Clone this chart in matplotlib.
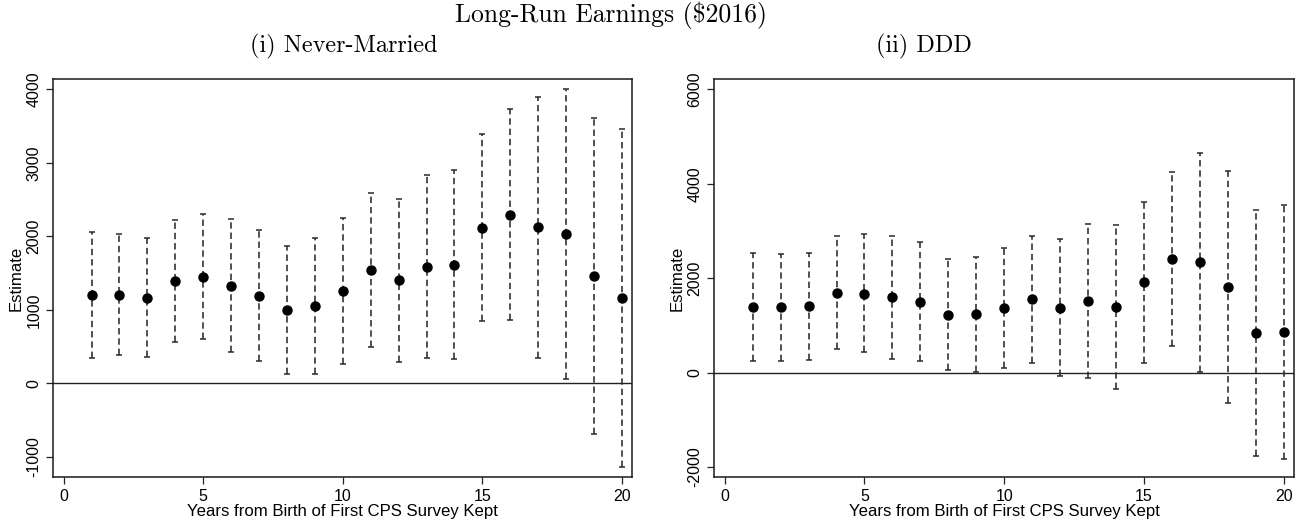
import matplotlib
matplotlib.use("Agg")
import matplotlib.pyplot as plt
import numpy as np

years = list(range(1, 21))

# Panel (i) Never-Married
nm_est = [1202, 1206, 1166, 1392, 1447, 1329, 1193, 998, 1057, 1256,
          1542, 1406, 1587, 1610, 2118, 2295, 2127, 2027, 1460, 1166]
nm_hi = [2063, 2032, 1973, 2218, 2299, 2236, 2082, 1873, 1982, 2249,
         2590, 2512, 2839, 2898, 3388, 3732, 3900, 4000, 3610, 3465]
nm_lo = [349, 381, 363, 567, 599, 422, 299, 122, 132, 259,
         494, 290, 340, 327, 848, 862, 349, 54, -694, -1134]

# Panel (ii) DDD
ddd_est = [1385, 1385, 1406, 1689, 1675, 1604, 1498, 1230, 1237, 1371,
           1555, 1378, 1512, 1385, 1915, 2403, 2339, 1816, 841, 862]
ddd_hi = [2537, 2516, 2530, 2890, 2926, 2898, 2763, 2403, 2459, 2643,
          2898, 2834, 3145, 3117, 3611, 4247, 4650, 4276, 3442, 3555]
ddd_lo = [240, 254, 276, 495, 431, 297, 240, 49, 14, 92,
          212, -78, -120, -353, 212, 565, 14, -650, -1774, -1837]

main_title = "Long-Run Earnings ($2016)"
panel_titles = ["(i) Never-Married", "(ii) DDD"]
xlabel = "Years from Birth of First CPS Survey Kept"
ylabel = "Estimate"
xticks = [0, 5, 10, 15, 20]
yticks_nm = [-1000, 0, 1000, 2000, 3000, 4000]
yticks_ddd = [-2000, 0, 2000, 4000, 6000]

plt.rcParams['font.family'] = ['Liberation Sans', 'DejaVu Sans']
plt.rcParams['lines.scale_dashes'] = False

fig = plt.figure(figsize=(13.06, 5.25), dpi=100)
ax1 = fig.add_axes([0.0408, 0.0914, 0.4431, 0.758])
ax2 = fig.add_axes([0.547, 0.0914, 0.4436, 0.758])

serif = ['cmr10', 'DejaVu Serif']

def draw(ax, est, hi, lo, ylim, yticks):
    est = np.array(est); hi = np.array(hi); lo = np.array(lo)
    ax.axhline(0, color='#222222', lw=1.0, zorder=1)
    ax.vlines(years, lo, hi, colors='#2a2a2a', lw=1.15,
              linestyles=[(0, (4.6, 2.8))], zorder=2)
    ax.plot(years, hi, ls='none', marker='_', ms=5, mew=1.1, color='#2a2a2a', zorder=2)
    ax.plot(years, lo, ls='none', marker='_', ms=5, mew=1.1, color='#2a2a2a', zorder=2)
    ax.plot(years, est, ls='none', marker='o', ms=6.5, color='black', zorder=3)
    ax.set_xlim(-0.37, 20.36)
    ax.set_ylim(*ylim)
    ax.set_xticks(xticks)
    ax.set_yticks(yticks)
    ax.set_yticklabels([str(t) for t in yticks], rotation=90, va='center')
    ax.tick_params(direction='out', length=5, width=0.9, labelsize=11.5, color='#222222')
    for s in ax.spines.values():
        s.set_linewidth(1.1)
        s.set_color('#1a1a1a')
    ax.set_xlabel(xlabel, fontsize=12.1, labelpad=0)
    ax.set_ylabel(ylabel, fontsize=12.1, labelpad=2)

draw(ax1, nm_est, nm_hi, nm_lo, (-1275, 4140), yticks_nm)
draw(ax2, ddd_est, ddd_hi, ddd_lo, (-2212, 6219), yticks_ddd)

fig.text(611 / 1306, 1 - 15 / 525, main_title, ha='center', va='center', fontsize=18.5, family=serif)
fig.text(343.5 / 1306, 1 - 46 / 525, panel_titles[0], ha='center', va='center', fontsize=17.5, family=serif)
fig.text(924 / 1306, 1 - 46 / 525, panel_titles[1], ha='center', va='center', fontsize=17.5, family=serif)

fig.savefig("out.png", dpi=100)
